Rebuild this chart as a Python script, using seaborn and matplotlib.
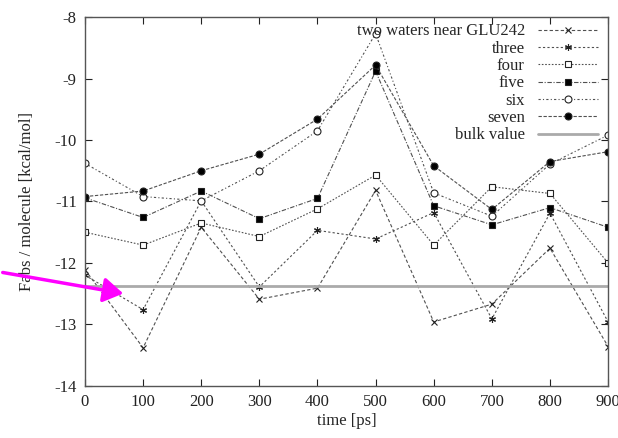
import numpy as np
import pandas as pd
import matplotlib
matplotlib.use("Agg")
import matplotlib.pyplot as plt
import seaborn as sns

# time points [ps]
time_ps = [0, 100, 200, 300, 400, 500, 600, 700, 800, 900]

# F_abs per molecule [kcal/mol]
two_waters = [-12.11, -13.38, -11.42, -12.59, -12.41, -10.82, -12.96, -12.67, -11.76, -13.36]
three = [-12.20, -12.76, -10.99, -12.39, -11.47, -11.61, -11.18, -12.91, -11.19, -12.96]
four = [-11.50, -11.71, -11.35, -11.57, -11.12, -10.57, -11.71, -10.76, -10.87, -12.00]
five = [-10.94, -11.26, -10.83, -11.28, -10.95, -8.88, -11.07, -11.38, -11.10, -11.42]
six = [-10.38, -10.92, -10.99, -10.50, -9.85, -8.27, -10.86, -11.24, -10.39, -9.92]
seven = [-10.92, -10.83, -10.50, -10.23, -9.66, -8.78, -10.42, -11.13, -10.35, -10.19]
bulk_value = -12.37

series_names = ["two waters near GLU242", "three", "four", "five", "six", "seven"]
series_values = [two_waters, three, four, five, six, seven]

sns.set_style("ticks")
plt.rcParams["font.family"] = ["Liberation Serif", "DejaVu Serif"]
plt.rcParams["font.size"] = 12
plt.rcParams["axes.unicode_minus"] = False

fig = plt.figure(figsize=(6.18, 4.38), dpi=100)
ax = fig.add_axes([0.1375, 0.119, 0.8465, 0.842])

styles = [
    dict(marker="x", ms=5, mfc="#333333", dashes=(3, 2)),
    dict(marker=(6, 2, 0), ms=5, mfc="#333333", dashes=(2, 2)),
    dict(marker="s", ms=5, mfc="white", dashes=(1.5, 1.5)),
    dict(marker="s", ms=5, mfc="black", dashes=(4, 1.5, 1, 1.5)),
    dict(marker="o", ms=5, mfc="white", dashes=(2, 2, 1, 2)),
    dict(marker="o", ms=5, mfc="black", dashes=(3, 1.5)),
]

for name, vals, st in zip(series_names, series_values, styles):
    df = pd.DataFrame({"time": time_ps, "F": vals})
    sns.lineplot(data=df, x="time", y="F", ax=ax, color="#505050", lw=0.8,
                 marker=st["marker"], markersize=st["ms"], markerfacecolor=st["mfc"],
                 markeredgecolor="#222222", markeredgewidth=0.8,
                 label=name)
    ax.lines[-1].set_dashes(st["dashes"])

ax.axhline(bulk_value, color="#aaaaaa", lw=2, label="bulk value")

ax.set_xlim(0, 900)
ax.set_ylim(-14, -8)
ax.set_xticks(time_ps)
ax.set_yticks([-14, -13, -12, -11, -10, -9, -8])
ax.tick_params(direction="in", top=True, right=True, length=5, colors="#222222",
               labelsize=12, pad=6)
for s in ax.spines.values():
    s.set_color("#555555")
    s.set_linewidth(1.0)
ax.set_xlabel("time [ps]", fontsize=12, labelpad=2)
ax.set_ylabel("Fabs / molecule [kcal/mol]", fontsize=12, labelpad=14)

leg = ax.legend(loc="upper right", frameon=False, markerfirst=False, handlelength=3.6,
                handletextpad=0.8, labelspacing=0.08, fontsize=12,
                bbox_to_anchor=(1.0, 1.01), borderaxespad=0.2)
for t in leg.get_texts():
    t.set_ha("right")
leg._legend_box.align = "right"

# magenta arrow pointing at the bulk value line
fig.patches.append(matplotlib.patches.FancyArrowPatch(
    (0 / 618, 1 - 272 / 438), (126 / 618, 1 - 294 / 438), transform=fig.transFigure,
    arrowstyle="-|>,head_length=8,head_width=5", color="magenta", lw=2.5,
    mutation_scale=1.5))

fig.savefig("out.png", dpi=100)
